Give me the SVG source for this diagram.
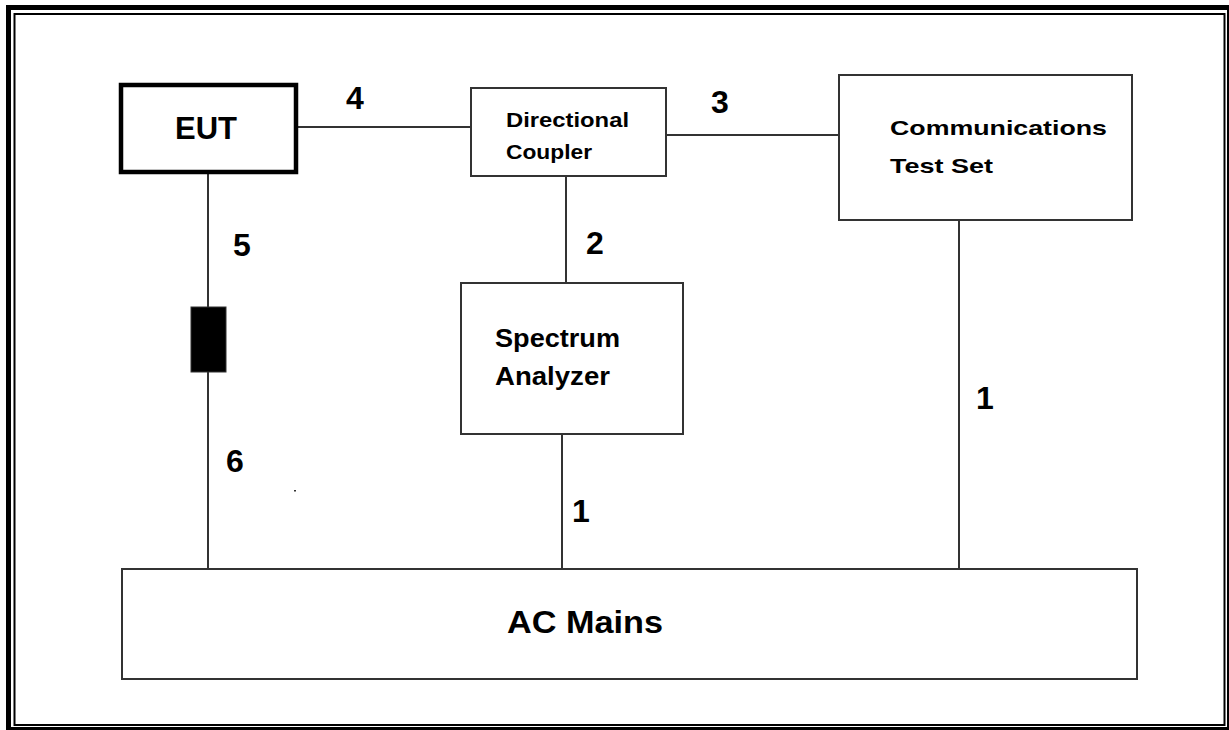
<svg xmlns="http://www.w3.org/2000/svg" width="1229" height="730" viewBox="0 0 1229 730">
<style>
.box{fill:#fff;stroke:#333;stroke-width:2}
.wire{stroke:#333;stroke-width:2;fill:none}
.t{font-family:"Liberation Sans",Arial,sans-serif;font-weight:bold;fill:#000}
.lbl{font-family:"Liberation Sans",Arial,sans-serif;font-weight:bold;fill:#000;font-size:32px;text-anchor:middle}
</style>
<rect x="0" y="0" width="1229" height="730" fill="#fff"/>
<g id="frame" fill="none" stroke="#000">
<rect x="8.5" y="7.5" width="1221" height="722" stroke-width="5"/>
<rect x="14.5" y="14" width="1210" height="711" stroke-width="2"/>
</g>
<g id="connectors">
<line class="wire" x1="298" y1="127" x2="471" y2="127"/>
<line class="wire" x1="666" y1="135" x2="839" y2="135"/>
<line class="wire" x1="566" y1="176" x2="566" y2="283"/>
<line class="wire" x1="562" y1="434" x2="562" y2="569"/>
<line class="wire" x1="959" y1="220" x2="959" y2="569"/>
<line class="wire" x1="208" y1="174" x2="208" y2="569"/>
<rect x="294" y="490" width="2" height="1.5" fill="#333"/>
</g>
<g id="labels">
<text class="lbl" x="355" y="109">4</text>
<text class="lbl" x="720" y="113">3</text>
<text class="lbl" x="595" y="254">2</text>
<text class="lbl" x="242" y="256">5</text>
<text class="lbl" x="235" y="472">6</text>
<text class="lbl" x="985" y="409">1</text>
<text class="lbl" x="581" y="522">1</text>
</g>
<g id="eut">
<rect x="121" y="85" width="175" height="87" fill="#fff" stroke="#000" stroke-width="4.5"/>
<text class="t" x="175" y="139" font-size="32" textLength="62" lengthAdjust="spacingAndGlyphs">EUT</text>
</g>
<g id="ferrite">
<rect x="191" y="307" width="35" height="65" fill="#000" stroke="#333" stroke-width="1"/>
</g>
<g id="directional-coupler">
<rect class="box" x="471" y="88" width="195" height="88"/>
<text class="t" x="506" y="127" font-size="21" textLength="123" lengthAdjust="spacingAndGlyphs">Directional</text>
<text class="t" x="506" y="159" font-size="21" textLength="86" lengthAdjust="spacingAndGlyphs">Coupler</text>
</g>
<g id="communications-test-set">
<rect class="box" x="839" y="75" width="293" height="145"/>
<text class="t" x="890" y="135" font-size="21" textLength="217" lengthAdjust="spacingAndGlyphs">Communications</text>
<text class="t" x="890" y="173" font-size="21" textLength="103" lengthAdjust="spacingAndGlyphs">Test Set</text>
</g>
<g id="spectrum-analyzer">
<rect class="box" x="461" y="283" width="222" height="151"/>
<text class="t" x="495" y="347" font-size="25" textLength="125" lengthAdjust="spacingAndGlyphs">Spectrum</text>
<text class="t" x="495" y="385" font-size="25" textLength="115" lengthAdjust="spacingAndGlyphs">Analyzer</text>
</g>
<g id="ac-mains">
<rect class="box" x="122" y="569" width="1015" height="110"/>
<text class="t" x="507" y="633" font-size="31" textLength="156" lengthAdjust="spacingAndGlyphs">AC Mains</text>
</g>
</svg>
